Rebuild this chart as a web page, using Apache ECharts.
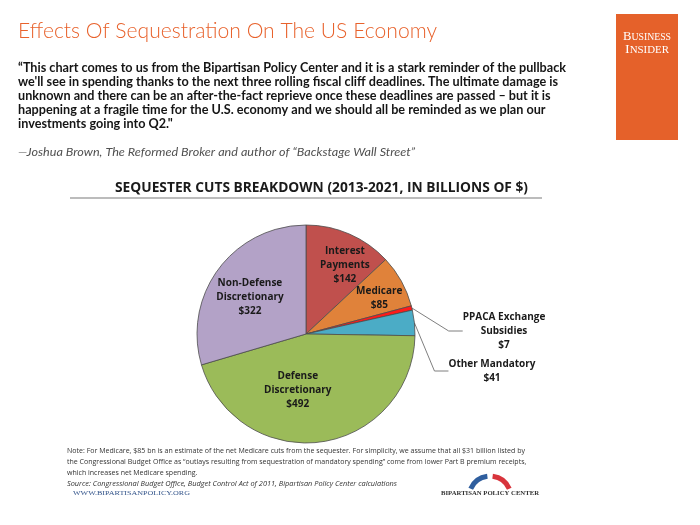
<!DOCTYPE html>
<html>
<head>
<meta charset="utf-8">
<script src="https://cdn.jsdelivr.net/npm/echarts@6/dist/echarts.min.js"></script>
<style>
html,body{margin:0;padding:0;background:#fff;}
#main{width:700px;height:525px;}
</style>
</head>
<body>
<div id="main"></div>
<script>
// ---- data ----
const categories = ['Interest Payments', 'Medicare', 'PPACA Exchange Subsidies', 'Other Mandatory', 'Defense Discretionary', 'Non-Defense Discretionary'];
const sliceLabels = ['Interest\nPayments', 'Medicare', 'PPACA Exchange\nSubsidies', 'Other Mandatory', 'Defense\nDiscretionary', 'Non-Defense\nDiscretionary'];
const values = [142, 85, 7, 41, 492, 322];
const sliceColors = ['#C0504D', '#E0823A', '#FF1A1A', '#4BACC6', '#9BBB59', '#B3A2C7'];
const outsideSlices = [2, 3];

const pageTitle = 'Effects Of Sequestration On The US Economy';
const quoteLines = [
  '\u201CThis chart comes to us from the Bipartisan Policy Center and it is a stark reminder of the pullback',
  'we\'ll see in spending thanks to the next three rolling fiscal cliff deadlines. The ultimate damage is',
  'unknown and there can be an after-the-fact reprieve once these deadlines are passed \u2013 but it is',
  'happening at a fragile time for the U.S. economy and we should all be reminded as we plan our',
  'investments going into Q2."'
];
const attribution = '\u2014Joshua Brown, The Reformed Broker and author of \u201CBackstage Wall Street\u201D';
const chartTitle = 'SEQUESTER CUTS BREAKDOWN (2013-2021, IN BILLIONS OF $)';
const noteLines = [
  'Note: For Medicare, $85 bn is an estimate of the net Medicare cuts from the sequester. For simplicity, we assume that all $31 billion listed by',
  'the Congressional Budget Office as \u201Coutlays resulting from sequestration of mandatory spending\u201D come from lower Part B premium receipts,',
  'which increases net Medicare spending.'
];
const sourceText = 'Source: Congressional Budget Office, Budget Control Act of 2011, Bipartisan Policy Center calculations';
const siteText = 'WWW.BIPARTISANPOLICY.ORG';
const bpcText = 'BIPARTISAN POLICY CENTER';

// ---- helpers ----
const mctx = document.createElement('canvas').getContext('2d');
function measure(text, st) {
  mctx.font = (st.fontStyle || 'normal') + ' ' + (st.fontWeight || 'normal') + ' ' + st.fontSize + 'px ' + st.fontFamily;
  return mctx.measureText(text).width;
}
function fitScale(text, st, w) { return w / measure(text, st); }
function textEl(text, x, y, st, scaleX) {
  return {
    type: 'text', x: x, y: y, scaleX: scaleX || 1, silent: true,
    style: Object.assign({ text: text, verticalAlign: 'middle', align: 'left' }, st)
  };
}

const graphics = [];
// page title
const titleSt = { fontFamily: 'Lato', fontWeight: 300, fontSize: 22, fill: '#E8622C' };
graphics.push(textEl(pageTitle, 18, 31, titleSt, fitScale(pageTitle, titleSt, 419)));

// quote
const quoteSt = { fontFamily: 'Lato', fontWeight: 'bold', fontSize: 12.5, fill: '#151515' };
const qScale = fitScale(quoteLines[0], quoteSt, 548);
const quoteY = [68, 82, 96, 110, 124];
quoteLines.forEach((t, i) => graphics.push(textEl(t, 18, quoteY[i], quoteSt, qScale)));

// attribution
const attrSt = { fontFamily: 'Lato', fontStyle: 'italic', fontSize: 11.5, fill: '#505050' };
graphics.push(textEl(attribution, 18, 152, attrSt, fitScale(attribution, attrSt, 397)));

// Business Insider logo
graphics.push({ type: 'rect', shape: { x: 616, y: 14, width: 62, height: 126 }, style: { fill: '#E5612A' }, silent: true });
const biA = { fontFamily: 'Liberation Serif', fontSize: 13 };
const biB = { fontFamily: 'Liberation Serif', fontSize: 10 };
const biRich = { a: Object.assign({ fill: '#fff' }, biA), b: Object.assign({ fill: '#fff' }, biB) };
const biScale1 = 48 / (measure('B', biA) + measure('USINESS', biB));
const biScale2 = 44 / (measure('I', biA) + measure('NSIDER', biB));
graphics.push({ type: 'text', x: 647, y: 37, scaleX: biScale1, silent: true, style: { text: '{a|B}{b|USINESS}', rich: biRich, align: 'center', verticalAlign: 'middle', fill: '#fff' } });
graphics.push({ type: 'text', x: 647, y: 50, scaleX: biScale2, silent: true, style: { text: '{a|I}{b|NSIDER}', rich: biRich, align: 'center', verticalAlign: 'middle', fill: '#fff' } });

// chart title + underline
const ctSt = { fontFamily: 'Open Sans', fontWeight: 'bold', fontSize: 15, fill: '#1a1a1a' };
graphics.push(textEl(chartTitle, 115, 188, ctSt, fitScale(chartTitle, ctSt, 413)));
graphics.push({ type: 'line', shape: { x1: 70, y1: 198, x2: 542, y2: 198 }, style: { stroke: '#a6a6a6', lineWidth: 1.5 }, silent: true });

// notes
const noteSt = { fontFamily: 'Open Sans', fontSize: 7.5, fill: '#333' };
const nScale = fitScale(noteLines[0], noteSt, 458);
const noteY = [451, 462, 473];
noteLines.forEach((t, i) => graphics.push(textEl(t, 67, noteY[i], noteSt, nScale)));
const srcSt = { fontFamily: 'Open Sans', fontStyle: 'italic', fontSize: 7.5, fill: '#333' };
graphics.push(textEl(sourceText, 67, 484, srcSt, fitScale(sourceText, srcSt, 330)));
const siteSt = { fontFamily: 'Liberation Serif', fontSize: 7, fill: '#34558B' };
graphics.push(textEl(siteText, 73, 493, siteSt, fitScale(siteText, siteSt, 117)));

// BPC logo
graphics.push({ type: 'arc', shape: { cx: 490, cy: 497, r: 21, startAngle: Math.PI * 1.13, endAngle: Math.PI * 1.46 }, style: { stroke: '#2F5E9E', lineWidth: 5, fill: null }, silent: true });
graphics.push({ type: 'arc', shape: { cx: 490, cy: 497, r: 21, startAngle: Math.PI * 1.54, endAngle: Math.PI * 1.87 }, style: { stroke: '#D8343C', lineWidth: 5, fill: null }, silent: true });
const bpcSt = { fontFamily: 'Liberation Serif', fontWeight: 'bold', fontSize: 7, fill: '#333' };
graphics.push(textEl(bpcText, 441, 493, bpcSt, fitScale(bpcText, bpcSt, 98)));

// ---- pie ----
const labelNudge = [
  { dx: 16, dy: -16 },
  { dx: 23, dy: -8 },
  { x: 504, y: 331, align: 'center', verticalAlign: 'middle' },
  { x: 492, y: 371, align: 'center', verticalAlign: 'middle' },
  { dx: -16, dy: -1 },
  { dx: -10, dy: -2 }
];

const pieData = categories.map((name, i) => {
  const outside = outsideSlices.indexOf(i) >= 0;
  return {
    name: name,
    value: values[i],
    itemStyle: { color: sliceColors[i] },
    label: { position: outside ? 'outside' : 'inside' },
    labelLine: { show: outside, length: 14, length2: 14 }
  };
});

const chart = echarts.init(document.getElementById('main'), null, { renderer: 'canvas' });
chart.setOption({
  backgroundColor: '#ffffff',
  animation: false,
  graphic: graphics,
  series: [{
    type: 'pie',
    center: [306, 334],
    radius: 109,
    startAngle: 90,
    clockwise: true,
    avoidLabelOverlap: false,
    data: pieData,
    itemStyle: { borderColor: '#4d4d4d', borderWidth: 0.8 },
    label: {
      show: true,
      formatter: p => sliceLabels[p.dataIndex] + '\n$' + p.value,
      fontFamily: 'Open Sans',
      fontWeight: 'bold',
      fontSize: 10,
      lineHeight: 14,
      color: '#1a1a1a',
      align: 'center'
    },
    labelLine: { lineStyle: { color: '#7f7f7f', width: 1 } },
    labelLayout: p => labelNudge[p.dataIndex],
    emphasis: { disabled: true }
  }]
});
</script>
</body>
</html>
